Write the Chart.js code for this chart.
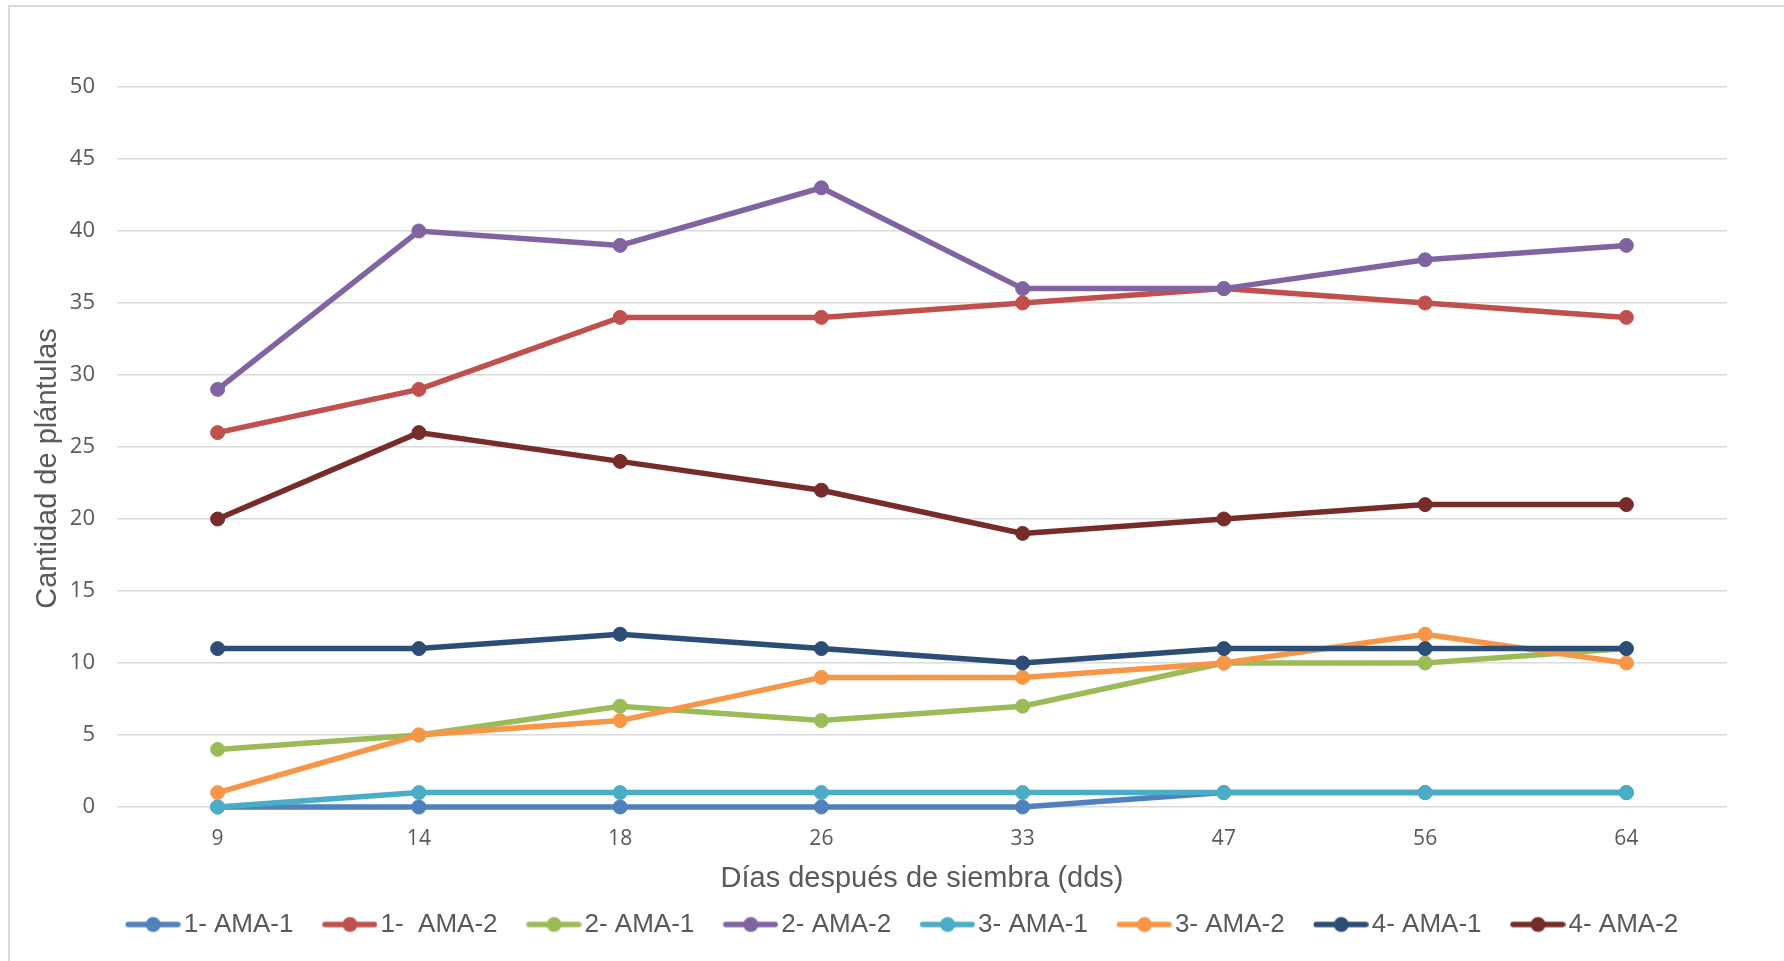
<!DOCTYPE html>
<html>
<head>
<meta charset="utf-8">
<title>Cantidad de plántulas</title>
<script src="https://cdn.jsdelivr.net/npm/chart.js@4/dist/chart.umd.min.js"></script>
<style>
  body { margin: 0; background: #fff; }
  .wrap { position: relative; width: 1784px; height: 961px; overflow: hidden; }
  .frame { position: absolute; left: 8px; top: 5px; width: 1800px; height: 1000px; border: 2px solid #d9d9d9; }
  canvas { position: absolute; left: 0; top: 0; }
</style>
</head>
<body>
<div class="wrap">
  <div class="frame"></div>
  <canvas id="plantChart" width="1784" height="961"></canvas>
</div>
<script>
// days after sowing
const dias = ['9', '14', '18', '26', '33', '47', '56', '64'];

const ama11 = [0, 0, 0, 0, 0, 1, 1, 1];
const ama12 = [26, 29, 34, 34, 35, 36, 35, 34];
const ama21 = [4, 5, 7, 6, 7, 10, 10, 11];
const ama22 = [29, 40, 39, 43, 36, 36, 38, 39];
const ama31 = [0, 1, 1, 1, 1, 1, 1, 1];
const ama32 = [1, 5, 6, 9, 9, 10, 12, 10];
const ama41 = [11, 11, 12, 11, 10, 11, 11, 11];
const ama42 = [20, 26, 24, 22, 19, 20, 21, 21];

const seriesNames = ['1- AMA-1', '1-  AMA-2', '2- AMA-1', '2- AMA-2', '3- AMA-1', '3- AMA-2', '4- AMA-1', '4- AMA-2'];
const seriesData = [ama11, ama12, ama21, ama22, ama31, ama32, ama41, ama42];
const colors = ['#4F81BD', '#C0504D', '#9BBB59', '#8064A2', '#4BACC6', '#F79646', '#2C4D75', '#772C2A'];

const gridColor = '#d9d9d9';
const textColor = '#595959';
const padLeft = 31;

// legend marker: line with a dot, drawn into a small canvas
function legendMarker(color) {
  const c = document.createElement('canvas');
  c.width = 80;
  c.height = 18;
  const g = c.getContext('2d');
  g.strokeStyle = color;
  g.lineWidth = 5.5;
  g.lineCap = 'round';
  g.beginPath();
  g.moveTo(27.5, 9);
  g.lineTo(77, 9);
  g.stroke();
  g.fillStyle = color;
  g.beginPath();
  g.arc(52.5, 9, 7.5, 0, Math.PI * 2);
  g.fill();
  return c;
}
const markers = colors.map(legendMarker);

const datasets = seriesNames.map((name, i) => ({
  label: name,
  data: seriesData[i],
  borderColor: colors[i],
  backgroundColor: colors[i],
  pointBackgroundColor: colors[i],
  pointBorderColor: colors[i],
  borderWidth: 5.5,
  pointRadius: 7,
  pointBorderWidth: 1,
  tension: 0,
  order: seriesNames.length - 1 - i  // later series drawn on top, like the original
}));

// nudge legend and y title to where the original has them
const nudge = {
  id: 'nudge',
  afterLayout(chart) {
    chart.legend.left += 15.5;
    chart.legend.right += 15.5;
    chart.scales.y.bottom += 43;
  }
};

new Chart(document.getElementById('plantChart'), {
  type: 'line',
  data: { labels: dias, datasets: datasets },
  plugins: [nudge],
  options: {
    responsive: false,
    animation: false,
    devicePixelRatio: 1,
    layout: { padding: { left: padLeft, right: 57, top: 87, bottom: 13.5 } },
    scales: {
      x: {
        offset: true,
        grid: { display: false },
        border: { display: false },
        ticks: { color: textColor, font: { family: 'Open Sans', size: 21 }, padding: 11, maxRotation: 0 },
        title: {
          display: true,
          text: 'Días después de siembra (dds)',
          color: textColor,
          font: { family: 'Liberation Sans', size: 29 },
          padding: { top: 0, bottom: 1.4 }
        },
        afterFit: (scale) => { scale.height = 90.5; }
      },
      y: {
        min: 0,
        max: 50,
        ticks: { stepSize: 5, color: textColor, font: { family: 'Open Sans', size: 22 }, padding: 22 },
        grid: { color: gridColor, lineWidth: 1.6, drawTicks: false },
        border: { display: false },
        title: {
          display: true,
          text: 'Cantidad de plántulas',
          color: textColor,
          font: { family: 'Liberation Sans', size: 29 },
          padding: { top: 0, bottom: 0 }
        },
        afterFit: (scale) => { scale.width = 117 - padLeft; }
      }
    },
    plugins: {
      tooltip: { enabled: false },
      legend: {
        position: 'bottom',
        labels: {
          color: textColor,
          font: { family: 'Liberation Sans', size: 26 },
          usePointStyle: true,
          pointStyleWidth: 60,
          padding: 14,
          sort: (a, b) => a.datasetIndex - b.datasetIndex,
          generateLabels: (chart) => {
            const items = Chart.defaults.plugins.legend.labels.generateLabels(chart);
            items.forEach(item => { item.pointStyle = markers[item.datasetIndex]; });
            return items;
          }
        }
      }
    }
  }
});
</script>
</body>
</html>
